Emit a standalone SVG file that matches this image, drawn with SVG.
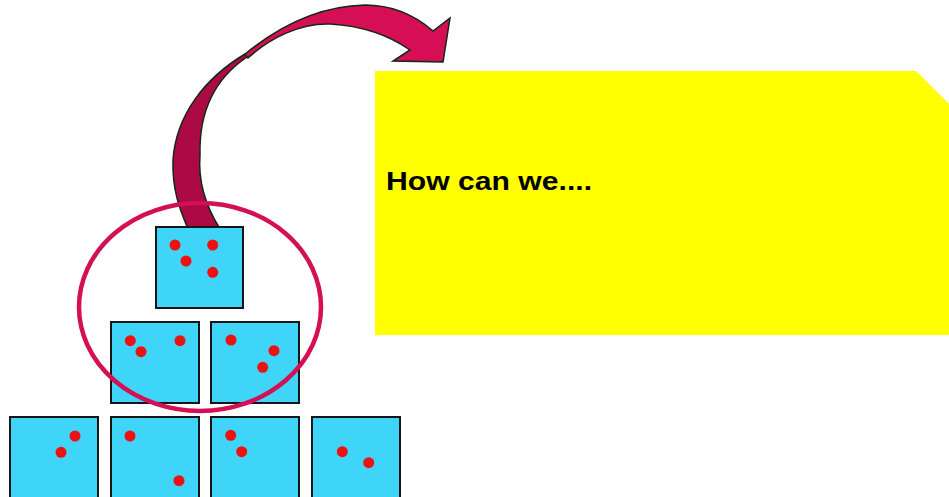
<svg xmlns="http://www.w3.org/2000/svg" width="949" height="497" viewBox="0 0 949 497">
<style>
.box{fill:#3fd5f9;stroke:#151515;stroke-width:2}
.dot{fill:#ee1111}
.arrow{stroke:#0f2a12;stroke-width:1.5;stroke-linejoin:miter}
.lbl{font-family:"Liberation Sans",Arial,sans-serif;font-weight:bold;font-size:25px;fill:#000}
</style>
<rect width="949" height="497" fill="#ffffff"/>
<g id="note">
<polygon points="375,71 916,71 949,104 949,335 375,335" fill="#ffff00"/>
<text class="lbl" x="386" y="190" textLength="206" lengthAdjust="spacingAndGlyphs">How can we....</text>
</g>
<g id="connectors">
<path class="arrow" fill="#d60e55" d="M244,55 C280,25 320,6 365,5 C395,5 418,18 433,31 L450,18 L443,62 L393,61 L410,50 C390,36 365,26 330,24 C300,23 270,38 248,58 Z"/>
<path class="arrow" fill="#ab0a45" d="M245,54 C205,78 176,115 173,160 C172,190 180,210 188,229 L220,229 C205,205 198,180 200,155 C199,115 213,80 247,57 Z"/>
</g>
<g id="box-top">
<rect class="box" x="156" y="227" width="87" height="81"/>
<circle class="dot" cx="175" cy="245" r="5.5"/>
<circle class="dot" cx="212.7" cy="245" r="5.5"/>
<circle class="dot" cx="186" cy="261" r="5.5"/>
<circle class="dot" cx="212.7" cy="272.3" r="5.5"/>
</g>
<g id="box-mid-left">
<rect class="box" x="111" y="322" width="88" height="81"/>
<circle class="dot" cx="130.3" cy="340.7" r="5.5"/>
<circle class="dot" cx="141" cy="351.7" r="5.5"/>
<circle class="dot" cx="180" cy="340.7" r="5.5"/>
</g>
<g id="box-mid-right">
<rect class="box" x="211" y="322" width="88" height="81"/>
<circle class="dot" cx="231" cy="340" r="5.5"/>
<circle class="dot" cx="274" cy="350.7" r="5.5"/>
<circle class="dot" cx="262.7" cy="367.3" r="5.5"/>
</g>
<g id="box-bot-1">
<rect class="box" x="10" y="417" width="88" height="90"/>
<circle class="dot" cx="75" cy="436" r="5.5"/>
<circle class="dot" cx="61" cy="452.3" r="5.5"/>
</g>
<g id="box-bot-2">
<rect class="box" x="111" y="417" width="88" height="90"/>
<circle class="dot" cx="130" cy="436" r="5.5"/>
<circle class="dot" cx="179" cy="480.7" r="5.5"/>
</g>
<g id="box-bot-3">
<rect class="box" x="211" y="417" width="88" height="90"/>
<circle class="dot" cx="230.7" cy="435.3" r="5.5"/>
<circle class="dot" cx="241.7" cy="451.7" r="5.5"/>
</g>
<g id="box-bot-4">
<rect class="box" x="312" y="417" width="88" height="90"/>
<circle class="dot" cx="342.3" cy="451.7" r="5.5"/>
<circle class="dot" cx="368.7" cy="462.7" r="5.5"/>
</g>
<g id="highlight-ellipse">
<ellipse cx="200" cy="307" rx="121" ry="104" fill="none" stroke="#d40f55" stroke-width="4.5"/>
</g>
</svg>
